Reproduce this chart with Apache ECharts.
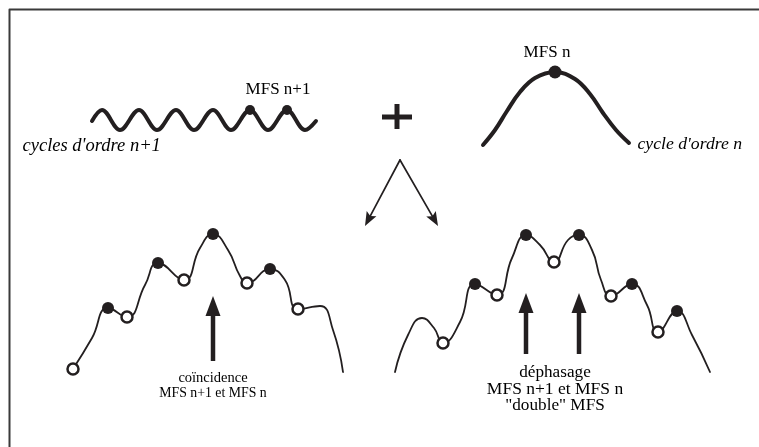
<!DOCTYPE html>
<html><head><meta charset="utf-8">
<script src="https://cdn.jsdelivr.net/npm/echarts@6/dist/echarts.min.js"></script>
<style>html,body{margin:0;padding:0;background:#fff}#c{width:759px;height:447px}</style>
</head><body><div id="c"></div>
<script>
// ---- data (diagram coordinates, 1 unit = 1 px, y downward) ----
const frameLine = [[9.5,447],[9.5,9.5],[759,9.5]];
const waveN1 = [[92,121],[102,110],[120,130],[139,110],[157,130],[176,110],[194,130],[213,110],[231,130],[250,110],[268,130],[287,110],[305,130],[316,121]];
const mfsN1Peaks = [[250,110],[287,110]];
const bellN = [[483,145],[495,130],[507,111],[520,92],[535,78],[555,72],[575,79],[590,94],[603,113],[616,130],[629,143]];
const mfsNPeak = [[555,72]];
const plusBars = [[[382,117],[412,117]],[[397,104],[397,129]]];
const forkArrows = [[[400,160],[365,226]],[[400,160],[438,226]]];
const curveCoincidence = [[73,369],[92,338],[108,308],[127,317],[145,285],[158,263],[184,280],[200,248],[213,234],[228,250],[240,276],[247,283],[270,269],[285,280],[298,309],[320,306],[333,330],[343,372]];
const coincidenceMax = [[108,308],[158,263],[213,234],[270,269]];
const coincidenceMin = [[73,369],[127,317],[184,280],[247,283],[298,309]];
const curveDephasage = [[395,372],[408,335],[422,318],[434,328],[443,343],[460,322],[475,284],[497,295],[512,258],[526,235],[540,245],[554,262],[568,240],[579,235],[592,250],[601,280],[611,296],[632,284],[647,305],[658,332],[677,311],[692,335],[710,372]];
const dephasageMax = [[475,284],[526,235],[579,235],[632,284],[677,311]];
const dephasageMin = [[443,343],[497,295],[554,262],[611,296],[658,332]];
const bigArrows = [[[213,361],[213,296]],[[526,354],[526,293]],[[579,354],[579,293]]];
const labelTexts = ['MFS n+1', "cycles d'ordre n+1", 'MFS n', "cycle d'ordre n", 'coïncidence', 'MFS n+1 et MFS n', 'déphasage', 'MFS n+1 et MFS n', '"double" MFS'];
const labelPos = [[278,90],[22,146],[547,53],[637,144],[213,378],[213,393],[555,372],[555,389],[555,405]];

// ---- styles ----
const INK = '#231f20';
const SERIF = '"Liberation Serif", "DejaVu Serif", serif';
const labelStyle = [
  {size:17, italic:false, left:false},
  {size:18.5, italic:true, left:true},
  {size:17, italic:false, left:false},
  {size:17.7, italic:true, left:true},
  {size:14.5, italic:false, left:false},
  {size:13.8, italic:false, left:false},
  {size:17.2, italic:false, left:false},
  {size:17.5, italic:false, left:false},
  {size:17.2, italic:false, left:false}
];

function arrowParts(from, to, headLen, shaftBack) {
  const dx = to[0]-from[0], dy = to[1]-from[1];
  const L = Math.hypot(dx, dy), ux = dx/L, uy = dy/L;
  return {
    shaft: [from, [to[0]-ux*headLen*shaftBack, to[1]-uy*headLen*shaftBack]],
    head: [to[0]-ux*headLen/2, to[1]-uy*headLen/2],
    rot: Math.atan2(-dy, dx)*180/Math.PI - 90
  };
}

const series = [];
function lineSeries(data, width, smooth, cap) {
  series.push({type:'line', data, smooth, symbol:'none', silent:true, z:2,
    lineStyle:{color:INK, width, cap: cap || 'round', join:'round', opacity:1}});
}
lineSeries(frameLine, 2, false, 'butt');
series[0].lineStyle.color = '#3a3a3a';
lineSeries(waveN1, 4, 0.36);
lineSeries(bellN, 4, 0.4);
plusBars.forEach(b => lineSeries(b, 5, false, 'butt'));
lineSeries(curveCoincidence, 1.8, 0.5);
lineSeries(curveDephasage, 1.8, 0.5);

const thinHeads = [], thickHeads = [];
forkArrows.forEach(a => {
  const p = arrowParts(a[0], a[1], 14, 0.75);
  lineSeries(p.shaft, 1.7, false);
  thinHeads.push({value:p.head, symbolRotate:p.rot});
});
bigArrows.forEach(a => {
  const p = arrowParts(a[0], a[1], 20, 0.95);
  lineSeries(p.shaft, 4.5, false, 'butt');
  thickHeads.push({value:p.head, symbolRotate:p.rot});
});
const solid = {color:INK, opacity:1};
series.push({type:'scatter', data:thinHeads, symbol:'path://M5,0 L10,12 L5,9.6 L0,12 Z', symbolSize:[11,14], itemStyle:solid, z:5, silent:true});
series.push({type:'scatter', data:thickHeads, symbol:'path://M5,0 L10,10 L0,10 Z', symbolSize:[15,20], itemStyle:solid, z:5, silent:true});

series.push({type:'scatter', data:mfsN1Peaks, symbol:'circle', symbolSize:10, itemStyle:solid, z:6, silent:true});
series.push({type:'scatter', data:mfsNPeak, symbol:'circle', symbolSize:13, itemStyle:solid, z:6, silent:true});
series.push({type:'scatter', data:coincidenceMax.concat(dephasageMax), symbol:'circle', symbolSize:12, itemStyle:solid, z:6, silent:true});
series.push({type:'scatter', data:coincidenceMin.concat(dephasageMin), symbol:'circle', symbolSize:11, itemStyle:{color:'#fff', borderColor:INK, borderWidth:2.5, opacity:1}, z:6, silent:true});

series.push({type:'scatter', symbol:'circle', symbolSize:1, silent:true, z:8,
  itemStyle:{color:'rgba(0,0,0,0)', opacity:1},
  data: labelTexts.map((t,i) => ({name:t, value:labelPos[i],
    label:{show:true, formatter:'{b}', position: labelStyle[i].left ? 'right' : 'inside', distance:0,
      align: labelStyle[i].left ? 'left' : 'center', verticalAlign:'middle', opacity:1,
      color:'#000', fontFamily:SERIF, fontSize:labelStyle[i].size,
      fontStyle: labelStyle[i].italic ? 'italic' : 'normal'}}))
});

const chart = echarts.init(document.getElementById('c'), null, {renderer:'canvas'});
chart.setOption({
  animation:false,
  backgroundColor:'#fff',
  grid:{left:0, right:0, top:0, bottom:0},
  xAxis:{type:'value', min:0, max:759, show:false},
  yAxis:{type:'value', min:0, max:447, inverse:true, show:false},
  series
});
</script></body></html>
